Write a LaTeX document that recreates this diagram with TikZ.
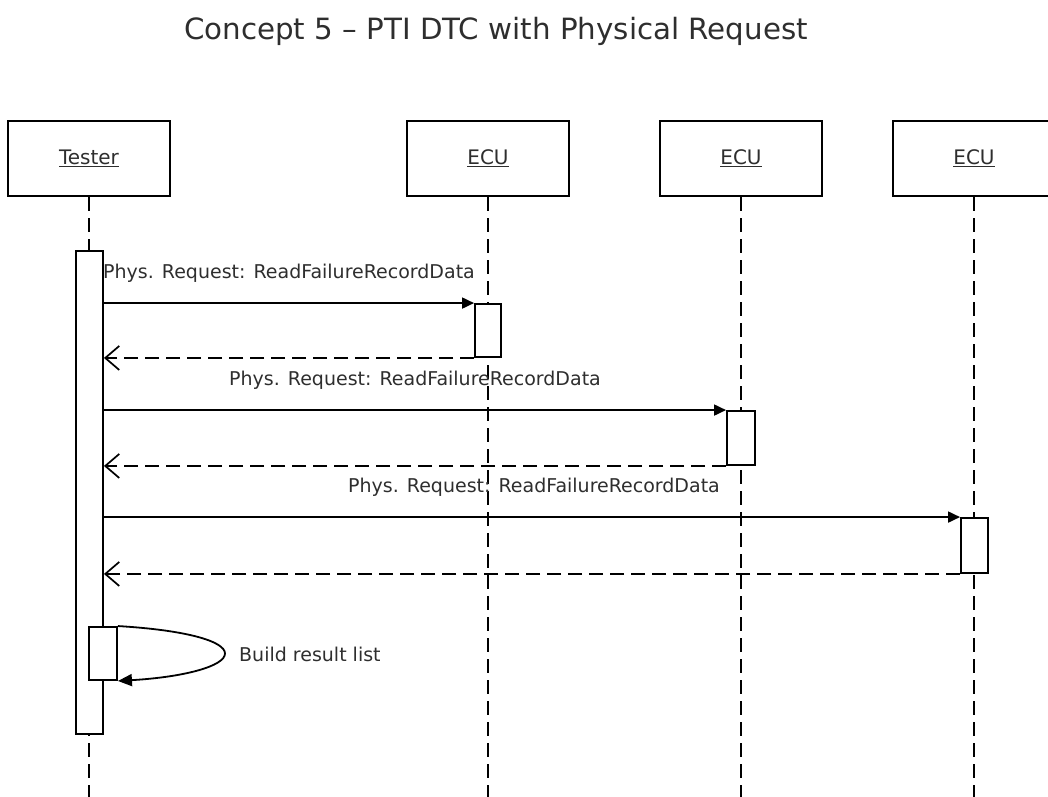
\documentclass[tikz,border=0pt]{standalone}
\usepackage{fontspec}
\setmainfont{DejaVu Sans}
\usetikzlibrary{arrows.meta}
\begin{document}
\begin{tikzpicture}[x=1pt,y=-1pt,
  every node/.style={inner sep=0pt, text=black!82},
  actor/.style={draw, line width=2pt, fill=white, minimum width=162pt, minimum height=75pt,
    font=\fontsize{20}{24}\selectfont},
  lifeline/.style={line width=1.7pt, dash pattern=on 14pt off 7pt},
  activation/.style={draw, line width=1.9pt, fill=white, minimum width=27pt},
  call/.style={line width=1.8pt, -{Triangle[length=12pt,width=11pt]}},
  reply/.style={line width=1.7pt, dash pattern=on 14pt off 7pt,
    -{Straight Barb[length=14pt,width=24pt,line width=1.7pt]}},
  msg/.style={font=\fontsize{19}{23}\selectfont, anchor=base},
]
\useasboundingbox (0,0) rectangle (1048,796);

% title
\node[font=\fontsize{29.3}{35}\selectfont, anchor=base] (title) at (496,39)
  {Concept 5 – PTI DTC with Physical Request};

% participants
\node[actor] (tester) at (89,158.5) {\underline{Tester}};
\node[actor] (ecuA) at (488,158.5) {\underline{ECU}};
\node[actor] (ecuB) at (741,158.5) {\underline{ECU}};
\node[actor] (ecuC) at (974,158.5) {\underline{ECU}};

% lifelines
\coordinate (testerEnd) at (89,800);
\coordinate (ecuAEnd) at (488,800);
\coordinate (ecuBEnd) at (741,800);
\coordinate (ecuCEnd) at (974,800);
\draw[lifeline] (tester.south) -- (testerEnd);
\draw[lifeline] (ecuA.south) -- (ecuAEnd);
\draw[lifeline] (ecuB.south) -- (ecuBEnd);
\draw[lifeline] (ecuC.south) -- (ecuCEnd);

% activation bars
\node[activation, minimum height=483pt] (tAct) at (89.5,492.5) {};
\node[activation, minimum width=26pt, minimum height=53pt] (aAct) at (488,330.5) {};
\node[activation, minimum width=28pt, minimum height=54pt] (bAct) at (741,438) {};
\node[activation, minimum height=55pt] (cAct) at (974.5,545.5) {};
\node[activation, minimum width=28pt, minimum height=53pt] (selfAct) at (103,653.5) {};

% requests and responses
\draw[call] (tAct.east |- aAct.north west) -- (aAct.north west);
\draw[reply] (aAct.south west) -- (tAct.east |- aAct.south west);
\node[msg] (msgA) at (289,278) {Phys. Request: ReadFailureRecordData};

\draw[call] (tAct.east |- bAct.north west) -- (bAct.north west);
\draw[reply] (bAct.south west) -- (tAct.east |- bAct.south west);
\node[msg] (msgB) at (415,385) {Phys. Request: ReadFailureRecordData};

\draw[call] (tAct.east |- cAct.north west) -- (cAct.north west);
\draw[reply] (cAct.south west) -- (tAct.east |- cAct.south west);
\node[msg] (msgC) at (534,492) {Phys. Request: ReadFailureRecordData};

% self call
\draw[call, -{Triangle[length=14pt,width=12pt]}] (selfAct.north east)
  .. controls (185,630) and (225,641) .. (225,653.5)
  .. controls (225,666) and (185,677) .. (selfAct.south east);
\node[font=\fontsize{19}{23}\selectfont, anchor=west] (selfMsg) at (239,654) {Build result list};
\end{tikzpicture}
\end{document}
